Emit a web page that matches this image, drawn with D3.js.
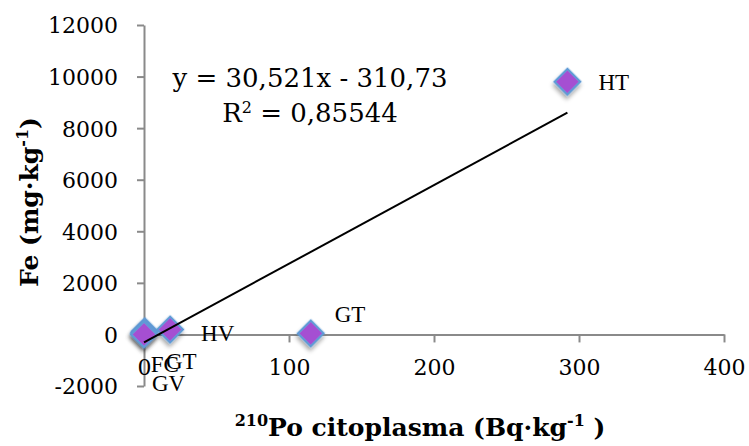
<!DOCTYPE html>
<html>
<head>
<meta charset="utf-8">
<script src="https://cdn.jsdelivr.net/npm/d3@7"></script>
<style>
  html, body { margin: 0; padding: 0; background: #fff; }
  .axis path, .axis line { stroke: #8a8a8a; stroke-width: 2; }
  .axis text { font-family: "DejaVu Serif", serif; font-size: 22px; fill: #000; }
</style>
</head>
<body>
<div id="app"></div>
<script>
// sample names and values
const names = ["HT", "GT", "HV", "FC", "GT", "GV"];
const poValues = [292, 115, 18, 0.5, 0, 0];
const feValues = [9800, 40, 190, 120, 60, 0];

const xTicks = [0, 100, 200, 300, 400];
const yTicks = [-2000, 0, 2000, 4000, 6000, 8000, 10000, 12000];

// trendline from the chart
const slope = 30.521;
const intercept = -310.73;
const eqText = "y = 30,521x - 310,73";
const r2Text = "0,85544";

// label nudges (px) so they sit like in the original
const labelNudge = [[31, 0], [24, -19], [31, 3], [6, 33], [22, 28], [8, 49]];

const width = 749;
const height = 446;

const svg = d3.select('#app')
  .append('svg')
  .attr('width', width)
  .attr('height', height)
  .style('display', 'block');

const defs = svg.append('defs');
const shadow = defs.append('filter')
  .attr('id', 'shadow')
  .attr('x', '-50%').attr('y', '-50%')
  .attr('width', '200%').attr('height', '200%');
shadow.append('feDropShadow')
  .attr('dx', 2).attr('dy', 3)
  .attr('stdDeviation', 2)
  .attr('flood-color', '#000')
  .attr('flood-opacity', 0.35);

const xScale = d3.scaleLinear().domain([0, 400]).range([144, 724]);
const yScale = d3.scaleLinear().domain([-2000, 12000]).range([386, 25]);

const plain = d => String(d);

// y axis sits at x = 0
svg.append('g')
  .attr('class', 'axis')
  .attr('transform', `translate(${xScale(0)},0)`)
  .call(d3.axisLeft(yScale).tickValues(yTicks).tickFormat(plain).tickSize(7).tickSizeOuter(0).tickPadding(19))
  .selectAll('text').attr('dy', '0.36em');

// x axis sits at y = 0
svg.append('g')
  .attr('class', 'axis')
  .attr('transform', `translate(0,${yScale(0)})`)
  .call(d3.axisBottom(xScale).tickValues(xTicks).tickFormat(plain).tickSize(8).tickSizeOuter(0).tickPadding(17));

const data = names.map((n, i) => ({ name: n, x: poValues[i], y: feValues[i], nudge: labelNudge[i] }));

// markers
svg.append('g')
  .selectAll('path')
  .data(data)
  .join('path')
  .attr('d', d3.symbol(d3.symbolSquare, 330)())
  .attr('transform', d => `translate(${xScale(d.x)},${yScale(d.y)}) rotate(45)`)
  .attr('fill', '#a550d2')
  .attr('stroke', '#5f9ad6')
  .attr('stroke-width', 2.2)
  .attr('filter', 'url(#shadow)');

// linear trendline over the x range of the data
const x0 = d3.min(poValues);
const x1 = d3.max(poValues);
svg.append('path')
  .datum([x0, x1])
  .attr('fill', 'none')
  .attr('stroke', '#000')
  .attr('stroke-width', 2)
  .attr('d', d3.line().x(d => xScale(d)).y(d => yScale(slope * d + intercept)));

// data labels
svg.append('g')
  .selectAll('text')
  .data(data)
  .join('text')
  .attr('x', d => xScale(d.x) + d.nudge[0])
  .attr('y', d => yScale(d.y) + d.nudge[1])
  .attr('dy', '0.35em')
  .attr('font-family', '"Liberation Serif", serif')
  .attr('font-size', 23)
  .text(d => d.name);

// equation
const eq = svg.append('g')
  .attr('font-family', '"DejaVu Serif", serif')
  .attr('font-size', 26)
  .attr('text-anchor', 'middle');
eq.append('text').attr('x', 310).attr('y', 87).text(eqText);
const r2 = eq.append('text').attr('x', 310).attr('y', 122);
r2.append('tspan').text('R');
r2.append('tspan').attr('font-size', 16).attr('baseline-shift', '55%').text('2');
r2.append('tspan').text(' = ' + r2Text);

// axis titles
const yt = svg.append('text')
  .attr('transform', 'translate(38,202) rotate(-90)')
  .attr('text-anchor', 'middle')
  .attr('font-family', '"DejaVu Serif", serif')
  .attr('font-weight', 'bold')
  .attr('font-size', 25);
yt.append('tspan').text('Fe (mg·kg');
yt.append('tspan').attr('font-size', 16).attr('baseline-shift', '60%').text('-1');
yt.append('tspan').text(')');

const xt = svg.append('text')
  .attr('x', 420)
  .attr('y', 436)
  .attr('text-anchor', 'middle')
  .attr('font-family', '"DejaVu Serif", serif')
  .attr('font-weight', 'bold')
  .attr('font-size', 25);
xt.append('tspan').attr('font-size', 16).attr('baseline-shift', '60%').text('210');
xt.append('tspan').text('Po citoplasma (Bq·kg');
xt.append('tspan').attr('font-size', 16).attr('baseline-shift', '60%').text('-1');
xt.append('tspan').text(' )');
</script>
</body>
</html>
